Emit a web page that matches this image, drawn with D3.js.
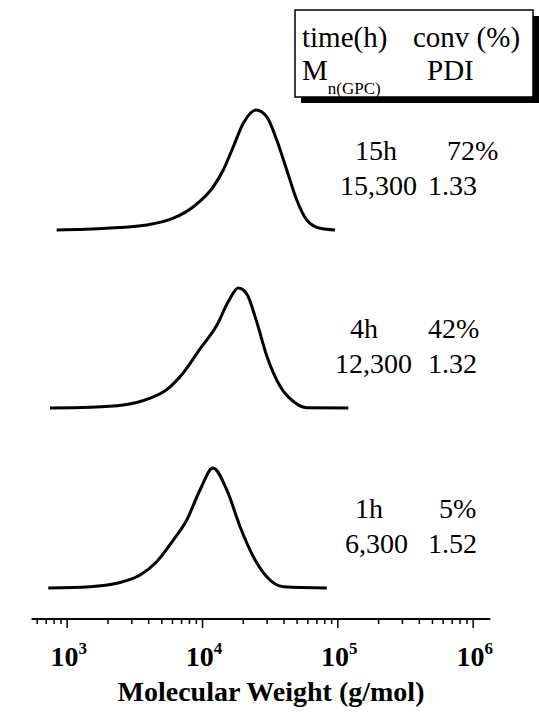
<!DOCTYPE html>
<html><head><meta charset="utf-8">
<script src="https://cdn.jsdelivr.net/npm/d3@7"></script>
<style>body{margin:0;background:#fff}svg{display:block}text{font-family:"Liberation Serif","Times New Roman",serif;fill:#000}</style>
</head><body><svg id="c" width="539" height="717"></svg>
<script>
// Data: molecular weight (g/mol) and normalized RI intensity for each GPC trace
const mw15 = [843, 1977, 3899, 6138, 8630, 12130, 14350, 17020, 20180, 25060, 30060, 35650, 42270, 50120, 59430, 74470, 96160];
const int15 = [0, 0.014, 0.042, 0.098, 0.194, 0.361, 0.5, 0.694, 0.889, 1.0, 0.944, 0.75, 0.5, 0.25, 0.083, 0.014, 0];
const mw4 = [753, 1486, 2618, 4130, 5483, 7278, 9662, 12850, 15640, 18540, 21380, 25350, 30060, 37740, 47340, 59430, 120500];
const int4 = [0, 0.006, 0.025, 0.082, 0.153, 0.294, 0.492, 0.689, 0.887, 1.0, 0.952, 0.718, 0.435, 0.181, 0.054, 0.003, 0];
const mw1 = [731, 1486, 2344, 3484, 4624, 6138, 7710, 9662, 12050, 15240, 19100, 23940, 30060, 39900, 83560];
const int1 = [0, 0.011, 0.039, 0.108, 0.219, 0.4, 0.567, 0.817, 1.0, 0.817, 0.511, 0.261, 0.094, 0.011, 0];
const times = ["15h", "4h", "1h"];
const convs = ["72%", "42%", "5%"];
const mns = ["15,300", "12,300", "6,300"];
const pdis = ["1.33", "1.32", "1.52"];
const majorTicks = [1e3, 1e4, 1e5, 1e6];
const tickExps = ["3", "4", "5", "6"];
const axisDomain = [550, 1.35e6];
const xTitle = "Molecular Weight (g/mol)";

const svg = d3.select("#c");
const x = d3.scaleLog().domain([1e3, 1e6]).range([66.7, 472.7]);
const y = d3.scaleLinear().domain([0, 1]).range([0, -120]);

const series = [
  {mw: mw15, v: int15}, {mw: mw4, v: int4}, {mw: mw1, v: int1}
];
const baselines = [230, 408, 588];
const convX = [447, 428, 439];
const timeX = [355, 350, 355];
const mnX = [340, 335, 345];

const line = d3.line().x(d => x(d[0])).y(d => y(d[1])).curve(d3.curveMonotoneX);
series.forEach((s, i) => {
  const g = svg.append("g").attr("transform", `translate(0,${baselines[i]})`);
  g.append("path").datum(s.mw.map((m, j) => [m, s.v[j]]))
    .attr("d", line).attr("fill", "none").attr("stroke", "#000")
    .attr("stroke-width", 3).attr("stroke-linejoin", "round");
  const t1 = baselines[i] - 70, t2 = t1 + 35;
  svg.append("text").attr("x", timeX[i]).attr("y", t1).attr("font-size", 28).text(times[i]);
  svg.append("text").attr("x", convX[i]).attr("y", t1).attr("font-size", 28).text(convs[i]);
  svg.append("text").attr("x", mnX[i]).attr("y", t2).attr("font-size", 28).text(mns[i]);
  svg.append("text").attr("x", 428).attr("y", t2).attr("font-size", 28).text(pdis[i]);
});

// Axis
const axisY = 619;
const minor = [];
for (let d = 100; d <= 1e5; d *= 10) for (let k = 2; k <= 9; k++) { const v = d * k; if (v >= axisDomain[0] && v <= axisDomain[1]) minor.push(v); }
const ax = svg.append("g").attr("transform", `translate(0,${axisY})`);
ax.append("line").attr("x1", x(axisDomain[0])).attr("x2", x(axisDomain[1])).attr("stroke", "#000").attr("stroke-width", 2);
const minorAxis = ax.append("g").call(d3.axisBottom(x).tickValues(minor).tickSize(5).tickFormat(""));
const majorAxis = ax.append("g").call(d3.axisBottom(x).tickValues(majorTicks).tickSize(9).tickFormat(""));
[minorAxis, majorAxis].forEach(a => { a.select(".domain").remove(); a.selectAll("line").attr("stroke", "#000").attr("stroke-width", 1.5); });
majorTicks.forEach((v, i) => {
  const t = svg.append("text").attr("x", x(v) + 2).attr("y", 666).attr("text-anchor", "middle")
    .attr("font-size", 28).attr("font-weight", "bold");
  t.append("tspan").text("10");
  t.append("tspan").attr("dy", -12).attr("font-size", 17).text(tickExps[i]);
});
svg.append("text").attr("x", 271).attr("y", 701).attr("text-anchor", "middle")
  .attr("font-size", 28).attr("font-weight", "bold").text(xTitle);

// Legend box
const lg = svg.append("g");
lg.append("rect").attr("x", 301).attr("y", 16).attr("width", 238).attr("height", 87).attr("fill", "#000");
lg.append("rect").attr("x", 295).attr("y", 10).attr("width", 238).attr("height", 87).attr("fill", "#fff").attr("stroke", "#000").attr("stroke-width", 1.5);
lg.append("text").attr("x", 302).attr("y", 47).attr("font-size", 29).text("time(h)");
lg.append("text").attr("x", 413).attr("y", 47).attr("font-size", 29).text("conv (%)");
const mt = lg.append("text").attr("x", 302).attr("y", 80).attr("font-size", 29);
mt.append("tspan").text("M");
mt.append("tspan").attr("dy", 14).attr("font-size", 17).text("n(GPC)");
lg.append("text").attr("x", 427).attr("y", 80).attr("font-size", 29).text("PDI");
</script></body></html>
